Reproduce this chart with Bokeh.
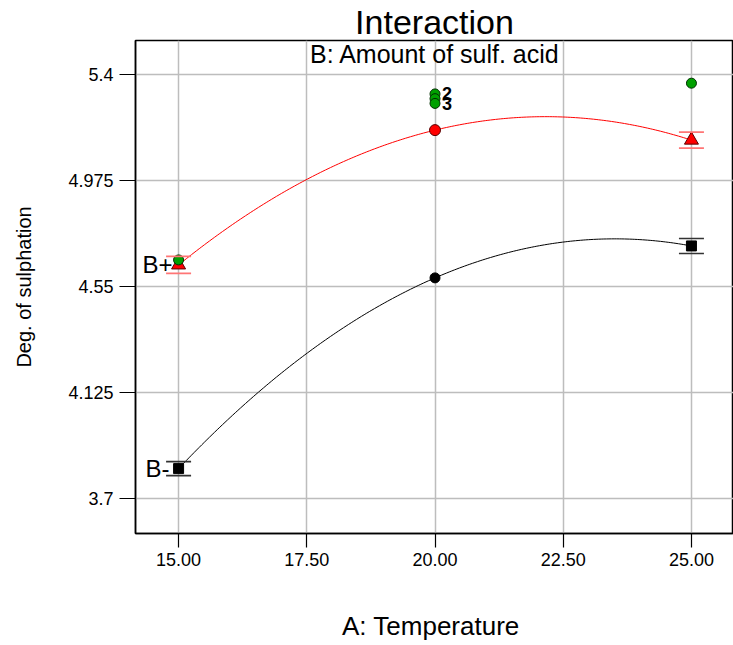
import numpy as np
from bokeh.plotting import figure
from bokeh.models import Range1d, FixedTicker, Label, Whisker, ColumnDataSource, TeeHead
from bokeh.core.properties import value
from bokeh.embed import file_html
from bokeh.resources import INLINE

# ---- data ----
temps = [15.0, 20.0, 25.0]
b_minus = [3.820, 4.584, 4.712]
b_plus = [4.636, 5.176, 5.136]
b_minus_markers = ["square", "circle", "square"]
b_plus_markers = ["triangle", "circle", "triangle"]
bar_x = [15.0, 25.0]
b_minus_bar = [0.028, 0.030]
b_plus_bar = [0.034, 0.032]
b_minus_bar_mid = [3.820, 4.712]
b_plus_bar_mid = [4.636, 5.136]
design_x = [15.0, 20.0, 20.0, 20.0, 25.0]
design_y = [4.656, 5.321, 5.302, 5.283, 5.364]
design_lbl = ["", "2", "", "3", ""]
x_ticks = [15.0, 17.5, 20.0, 22.5, 25.0]
x_tick_labels = ["15.00", "17.50", "20.00", "22.50", "25.00"]
y_ticks = [3.7, 4.125, 4.55, 4.975, 5.4]
y_tick_labels = ["3.7", "4.125", "4.55", "4.975", "5.4"]

FONT = "Liberation Sans"

p = figure(width=733, height=645, output_backend="svg", toolbar_location=None,
           x_range=Range1d(14.16, 25.82), y_range=Range1d(3.56, 5.535),
           min_border_left=135, min_border_right=0, min_border_top=37, min_border_bottom=112)

p.title.text = "Interaction"
p.title.align = "center"
p.title.text_font = FONT
p.title.text_font_size = "34px"
p.title.text_font_style = "normal"
p.title.text_color = "black"
p.title.standoff = 0

p.outline_line_color = "black"
p.outline_line_width = 1.5
p.background_fill_color = "white"

p.xaxis.ticker = FixedTicker(ticks=x_ticks)
p.yaxis.ticker = FixedTicker(ticks=y_ticks)
p.xaxis.major_label_overrides = dict(zip(x_ticks, x_tick_labels))
p.yaxis.major_label_overrides = dict(zip(y_ticks, y_tick_labels))
for ax in (p.xaxis[0], p.yaxis[0]):
    ax.minor_tick_line_color = None
    ax.major_tick_in = 0
    ax.axis_line_color = "black"
    ax.axis_line_width = 1.5
    ax.major_tick_line_color = "black"
    ax.major_tick_line_width = 1.2
    ax.major_label_text_font = FONT
    ax.major_label_text_font_size = "18px"
    ax.major_label_text_color = "black"
    ax.axis_label_text_font = FONT
    ax.axis_label_text_font_style = "normal"
    ax.axis_label_text_color = "black"
p.xaxis.major_tick_out = 14
p.yaxis.major_tick_out = 16
p.xaxis.major_label_standoff = 5
p.yaxis.major_label_standoff = 6
p.xaxis.axis_label = "A:  Temperature"
p.yaxis.axis_label = "Deg. of sulphation"
p.xaxis.axis_label_text_font_size = "26px"
p.yaxis.axis_label_text_font_size = "20px"
p.xaxis.axis_label_standoff = 42
p.yaxis.axis_label_standoff = 30

p.xgrid.ticker = FixedTicker(ticks=x_ticks)
p.ygrid.ticker = FixedTicker(ticks=y_ticks)
p.grid.grid_line_color = "#bdbdbd"
p.grid.grid_line_width = 1.5

# fitted quadratic curves through the predicted means
xs = np.linspace(min(temps), max(temps), 200)
cm = np.polyfit(temps, b_minus, 2)
cp = np.polyfit(temps, b_plus, 2)
p.line(xs, np.polyval(cm, xs), line_color="black", line_width=1)
p.line(xs, np.polyval(cp, xs), line_color="#ff0000", line_width=1)

# LSD bars
src_m = ColumnDataSource(dict(x=bar_x,
                              lo=[m - e for m, e in zip(b_minus_bar_mid, b_minus_bar)],
                              hi=[m + e for m, e in zip(b_minus_bar_mid, b_minus_bar)]))
src_p = ColumnDataSource(dict(x=bar_x,
                              lo=[m - e for m, e in zip(b_plus_bar_mid, b_plus_bar)],
                              hi=[m + e for m, e in zip(b_plus_bar_mid, b_plus_bar)]))
for src, col in ((src_m, "#333333"), (src_p, "#ff7575")):
    w = Whisker(base="x", lower="lo", upper="hi", source=src, dimension="height",
                line_alpha=0, level="glyph",
                upper_head=TeeHead(size=25, line_color=col, line_width=1.6),
                lower_head=TeeHead(size=25, line_color=col, line_width=1.6))
    p.add_layout(w)

# series labels (drawn under the markers)
p.text(x=[temps[0], temps[0]], y=[b_plus[0], b_minus[0]], text=["B+", "B-"], x_offset=[-6, -9],
       text_align="right", text_baseline="middle", text_font=value(FONT), text_font_size="24px",
       text_color="black")

# means
p.scatter(temps, b_minus, marker=b_minus_markers, size=10, fill_color="black", line_color="black")
p.scatter(temps, b_plus, marker=b_plus_markers, size=[14, 11, 14], fill_color="#ff0000",
          line_color="#5a0000", line_width=1)

# design points
p.scatter(design_x, design_y, marker="circle", size=10, fill_color="#00a000", line_color="#003000",
          line_width=1)
p.text(x=design_x, y=design_y, text=design_lbl, x_offset=7, text_align="left", text_baseline="middle",
       text_font=value(FONT), text_font_size="18px", text_font_style="bold", text_color="black")

p.add_layout(Label(x=20.0, y=5.480, text="B: Amount of sulf. acid", text_align="center",
                   text_baseline="middle", text_font=FONT, text_font_size="25px", text_color="black"))

open("out.html", "w").write(file_html(p, INLINE))
